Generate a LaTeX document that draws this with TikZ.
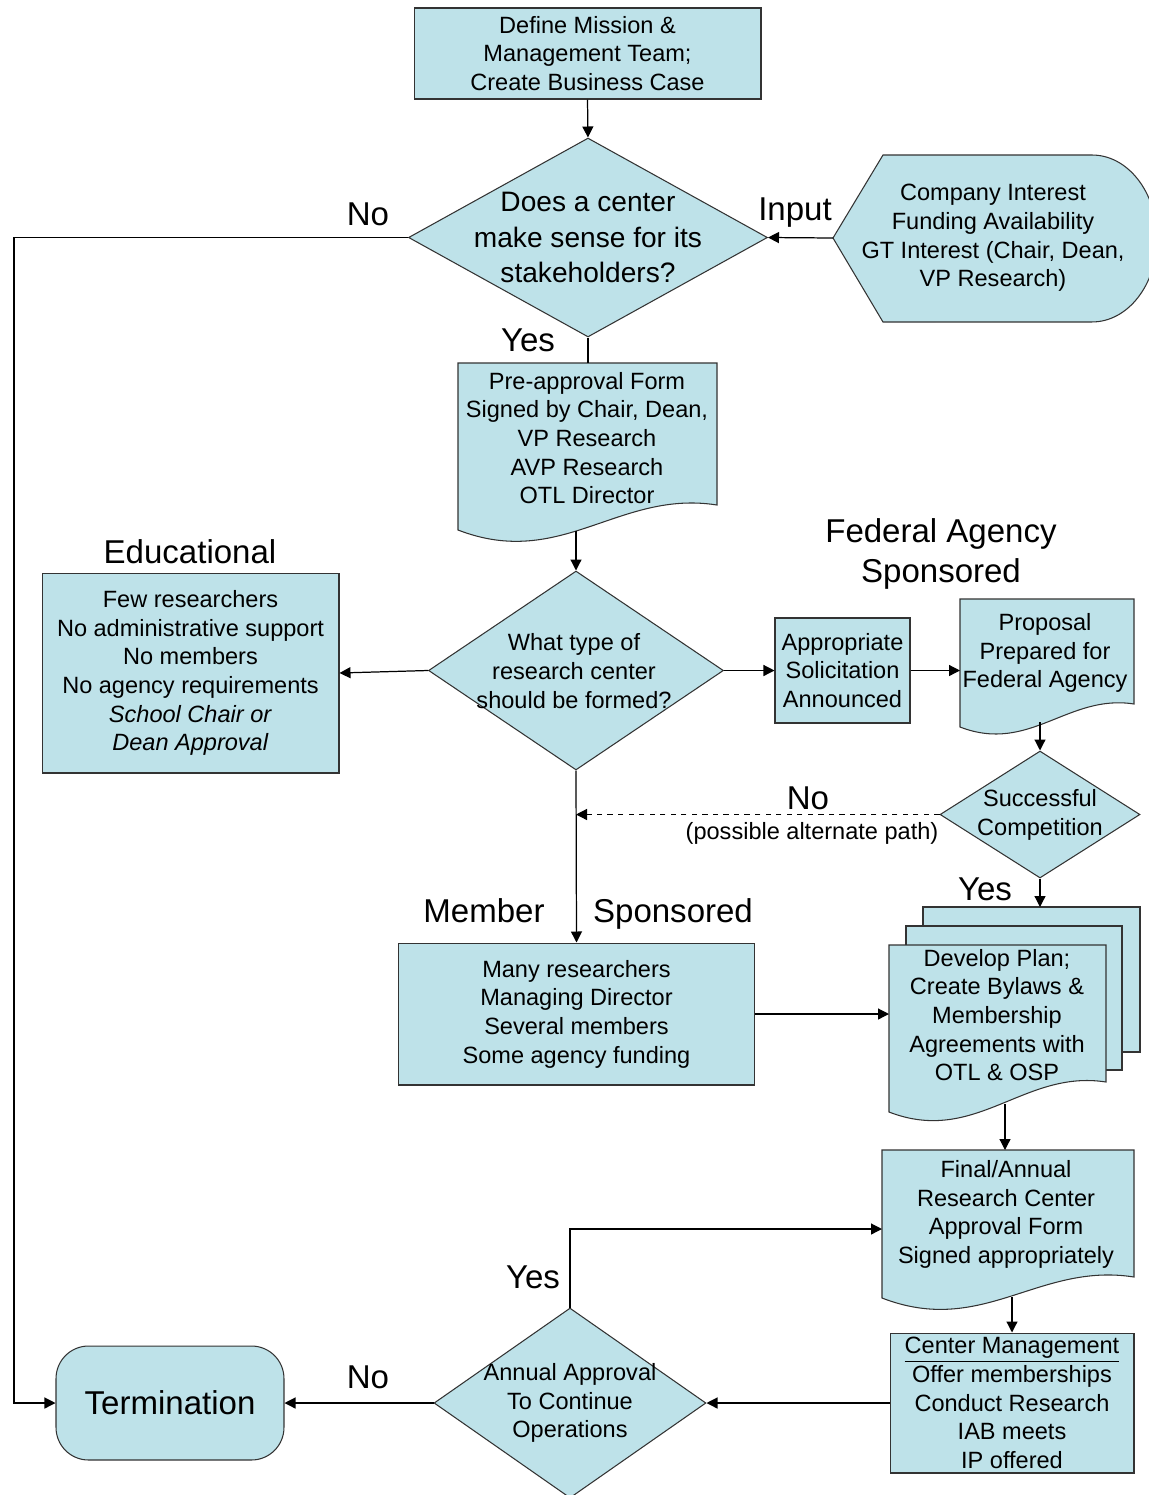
\documentclass[tikz,border=0pt]{standalone}
\usepackage{fontspec}
\setmainfont{Liberation Sans}
\usetikzlibrary{arrows.meta,shapes.geometric}
\definecolor{cellblue}{RGB}{190,226,233}
\newcommand{\boxfont}{\fontsize{13.4}{16.3}\selectfont}
\newcommand{\askfont}{\fontsize{16}{20}\selectfont}
\newcommand{\lblfont}{\fontsize{18.8}{22.7}\selectfont}
% document shape with wavy bottom: x0, top, x1, bottom left, bottom right
\newcommand{\docshape}[5]{%
  \pgfmathsetmacro{\docw}{#3-#1}%
  \pgfmathsetmacro{\cax}{#1+0.4*\docw}\pgfmathsetmacro{\cay}{#4+0.155*\docw}%
  \pgfmathsetmacro{\cbx}{#1+0.62*\docw}\pgfmathsetmacro{\cby}{#5-0.06*\docw}%
  \draw[shapeline] (#1,#2) -- (#3,#2) -- (#3,#5) .. controls (\cbx,\cby) and (\cax,\cay) .. (#1,#4) -- cycle;}
\begin{document}
\begin{tikzpicture}[x=0.02cm, y=-0.02cm,
  shapeline/.style={draw=black!80, fill=cellblue, line width=0.6pt},
  procbox/.style={shapeline, rectangle, align=center, inner sep=2pt, font=\boxfont},
  decision/.style={shapeline, diamond, inner sep=0pt},
  boxtext/.style={align=center, font=\boxfont},
  asktext/.style={align=center, font=\askfont},
  biglabel/.style={font=\lblfont, anchor=base},
  arr/.style={-{Triangle[length=2.2mm,width=2.2mm]}, line width=0.7pt}]
\useasboundingbox (0,0) rectangle (1149,1495);

% Marking box Define Mission
\node[procbox, minimum width=6.94cm, minimum height=1.82cm] (mission) at (587.5,53.5)
  {Define Mission \&\\Management Team;\\Create Business Case};

% Marking decision Does a center make sense
\node[decision, minimum width=7.18cm, minimum height=3.98cm] (sense) at (588,237.5) {};
\node[asktext] (sense-txt) at (588,237.5) {Does a center\\make sense for its\\stakeholders?};

% Drawing display shape Input
\draw[shapeline] (833,238) -- (883,155) -- (1092,155)
  arc[start angle=90, end angle=-90, x radius=1.3cm, y radius=1.67cm] -- (883,322) -- cycle;
\coordinate (input-tip) at (833,238);
\node[boxtext] (input) at (993,238) {Company Interest\\Funding Availability\\GT Interest (Chair, Dean,\\VP Research)};

% Drawing document Pre-approval Form
\docshape{458}{363}{717}{530}{505}
\coordinate (preform-top) at (588,363);
\coordinate (preform-bot) at (576,531);
\node[boxtext] (preform) at (587,438) {Pre-approval Form\\Signed by Chair, Dean,\\VP Research\\AVP Research\\OTL Director};

% Marking decision What type of research center
\node[decision, minimum width=5.9cm, minimum height=3.98cm] (type) at (576,670.5) {};
\node[boxtext] (type-txt) at (574,671) {What type of\\research center\\should be formed?};

% Marking box Educational
\node[procbox, minimum width=5.94cm, minimum height=4cm] (edu) at (190.5,673)
  {Few researchers\\No administrative support\\No members\\No agency requirements\\\textit{School Chair or}\\\textit{Dean Approval}};

% Marking box Appropriate Solicitation
\node[procbox, minimum width=2.7cm, minimum height=2.1cm] (solicit) at (842.5,670.5)
  {Appropriate\\Solicitation\\Announced};

% Drawing document Proposal
\docshape{960}{599}{1134}{727}{704}
\coordinate (proposal-left) at (960,670.5);
\coordinate (proposal-bot) at (1040,722);
\node[boxtext] (proposal) at (1045,653) {Proposal\\Prepared for\\Federal Agency};

% Marking decision Successful Competition
\node[decision, minimum width=4cm, minimum height=2.54cm] (success) at (1040,814.5) {};
\node[boxtext] (success-txt) at (1040,815) {Successful\\Competition};
\coordinate (alt-join) at (576,814.5);

% Marking box Member Sponsored
\node[procbox, minimum width=7.14cm, minimum height=2.84cm] (member) at (576.5,1014)
  {Many researchers\\Managing Director\\Several members\\Some agency funding};

% Drawing multi document Develop Plan
\draw[shapeline] (923,907) rectangle (1140,1052);
\draw[shapeline] (906,926) rectangle (1122,1070);
\docshape{889}{945}{1106}{1112}{1082}
\coordinate (develop-top) at (1040,907);
\coordinate (develop-left) at (889,1014);
\coordinate (develop-bot) at (1005,1104);
\node[boxtext] (develop) at (997,1015) {Develop Plan;\\Create Bylaws \&\\Membership\\Agreements with\\OTL \& OSP};

% Drawing document Final/Annual form
\docshape{882}{1150}{1134}{1298}{1277}
\coordinate (final-top) at (1005,1150);
\coordinate (final-left) at (882,1229);
\coordinate (final-bot) at (1012,1297);
\node[boxtext] (final) at (1006,1214.5) {Final/Annual\\Research Center\\Approval Form\\Signed appropriately};

% Marking box Center Management
\node[procbox, minimum width=4.88cm, minimum height=2.8cm] (mgmt) at (1012,1403)
  {\underline{Center Management}\\Offer memberships\\Conduct Research\\IAB meets\\IP offered};

% Marking decision Annual Approval
\node[decision, minimum width=5.44cm, minimum height=3.8cm] (annual) at (570,1403) {};
\node[boxtext] (annual-txt) at (570,1403) {Annual Approval\\To Continue\\Operations};

% Marking terminator Termination
\node[shapeline, rounded corners=0.65cm, minimum width=4.56cm, minimum height=2.28cm, font=\lblfont] (term) at (170,1403) {Termination};
\coordinate (left-rail) at (14,237.5);

% Drawing connectors
\draw[arr] (mission.south) -- (sense.north);
\draw[arr] (input-tip) -- (sense.east);
\draw[arr] (sense.west) -- (left-rail) |- (term.west);
\draw[line width=0.7pt] (sense.south) -- (preform-top);
\draw[arr] (preform-bot) -- (type.north);
\draw[arr] (type.west) -- (edu.east);
\draw[arr] (type.east) -- (solicit.west);
\draw[arr] (solicit.east) -- (proposal-left);
\draw[arr] (proposal-bot) -- (success.north);
\draw[arr, dashed] (success.west) -- (alt-join);
\draw[arr] (type.south) -- (member.north);
\draw[arr] (success.south) -- (develop-top);
\draw[arr] (member.east) -- (develop-left);
\draw[arr] (develop-bot) -- (final-top);
\draw[arr] (final-bot) -- (mgmt.north);
\draw[arr] (mgmt.west) -- (annual.east);
\draw[arr] (annual.west) -- (term.east);
\draw[arr] (annual.north) |- (final-left);

% Marking labels
\node[biglabel] (no-top) at (368,225) {No};
\node[biglabel] (yes-top) at (528,351) {Yes};
\node[biglabel] (input-lbl) at (795,220) {Input};
\node[biglabel] (edu-lbl) at (190,563) {Educational};
\node[biglabel, align=center] (fed-lbl) at (941,582) {Federal Agency\\Sponsored};
\node[biglabel] (no-alt) at (808,809) {No};
\node[anchor=base, font=\boxfont] (alt-lbl) at (812,839) {(possible alternate path)};
\node[biglabel] (yes-success) at (985,900) {Yes};
\node[biglabel] (member-lbl) at (484,922) {Member};
\node[biglabel] (sponsored-lbl) at (673,922) {Sponsored};
\node[biglabel] (yes-annual) at (533,1288) {Yes};
\node[biglabel] (no-annual) at (368,1388) {No};
\end{tikzpicture}
\end{document}
